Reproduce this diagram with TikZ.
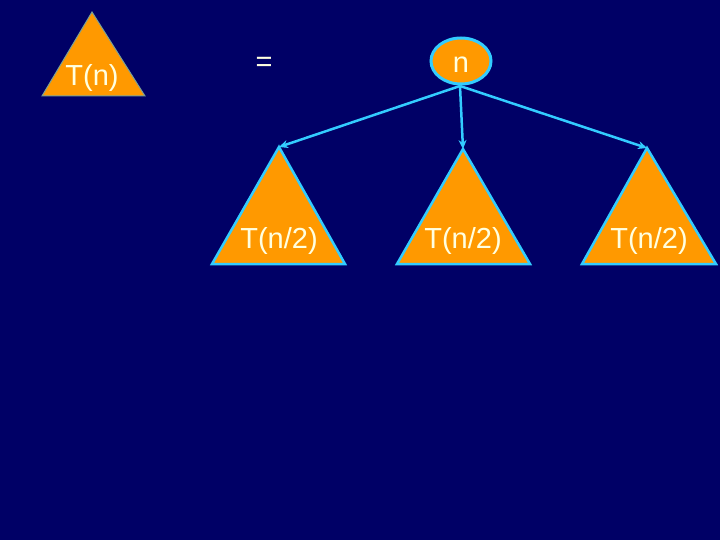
\documentclass[tikz,border=0pt]{standalone}
\usepackage{fontspec}
\setmainfont{Liberation Sans}
\usetikzlibrary{shapes.geometric,arrows.meta}
\definecolor{bgnavy}{RGB}{0,0,102}
\definecolor{tri}{RGB}{255,153,0}
\definecolor{edge}{RGB}{51,204,255}
\definecolor{txt}{RGB}{255,255,224}
\definecolor{thinedge}{RGB}{120,160,150}
\tikzset{
  trishape/.style={fill=tri,draw=edge,line width=2.5pt,line join=miter},
  lbl/.style={text=txt,font=\fontsize{29}{32}\selectfont,inner sep=0pt,anchor=base},
  conn/.style={draw=edge,line width=2.5pt,-{Stealth[length=9pt,width=8pt]}}
}
\begin{document}
\begin{tikzpicture}[x=1pt,y=-1pt]
\fill[bgnavy] (0,0) rectangle (720,540);
\useasboundingbox (0,0) rectangle (720,540);
% T(n)
\coordinate (a0) at (92,12);
\coordinate (b0l) at (42,96);
\coordinate (b0r) at (145,96);
\filldraw[fill=tri,draw=thinedge,line width=1pt] (a0) -- (b0l) -- (b0r) -- cycle;
\node[lbl] (tn) at (92,86) {T(n)};
% =
\node[lbl] (eq) at (264,72) {=};
% root
\node[ellipse,fill=tri,draw=edge,line width=3pt,minimum width=60pt,minimum height=46pt,inner sep=0pt] (n) at (461,61) {};
\node[lbl] (nl) at (461,73) {n};
% subtrees
\coordinate (a1) at (279,147);
\coordinate (a2) at (463,149);
\coordinate (a3) at (647,148);
\path[trishape] (a1) -- (212,264) -- (345,264) -- cycle;
\path[trishape] (a2) -- (397,264) -- (530,264) -- cycle;
\path[trishape] (a3) -- (582,264) -- (716,264) -- cycle;
\node[lbl] (t1) at (279,248) {T(n/2)};
\node[lbl] (t2) at (463,248) {T(n/2)};
\node[lbl] (t3) at (649,248) {T(n/2)};
\coordinate (root) at (460,86);
\draw[conn] (root) -- (a1);
\draw[conn] (root) -- (a2);
\draw[conn] (root) -- (a3);
\end{tikzpicture}
\end{document}
